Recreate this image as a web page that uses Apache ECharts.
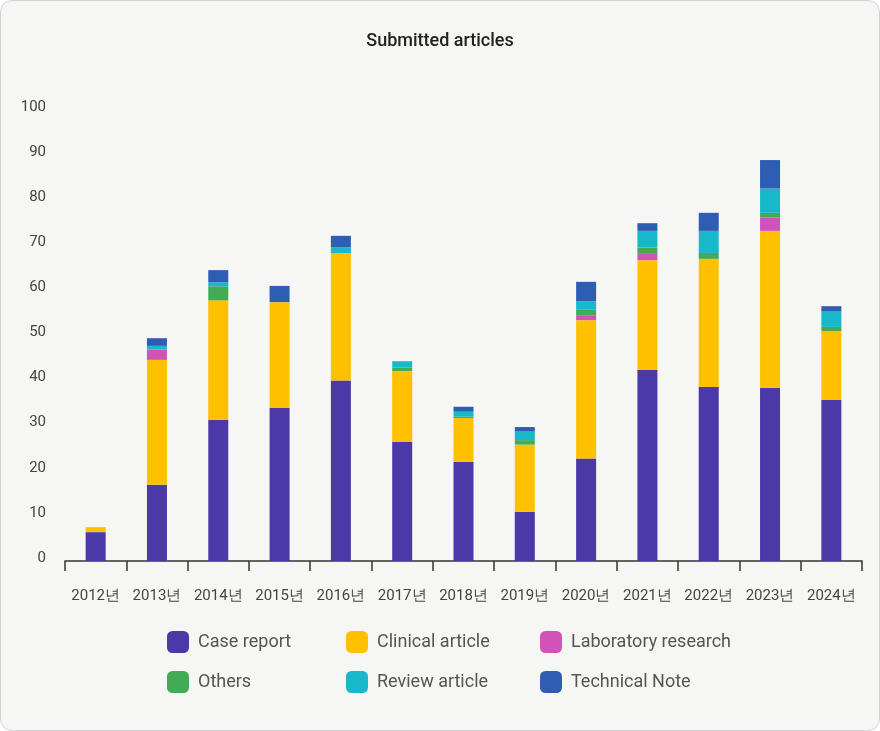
<!DOCTYPE html>
<html>
<head>
<meta charset="utf-8">
<script src="https://cdn.jsdelivr.net/npm/echarts@6/dist/echarts.min.js"></script>
<style>
  html, body { margin: 0; padding: 0; background: #ffffff; }
  #chart { width: 878px; height: 729px; border: 1px solid #d2d2d2; border-radius: 12px; background: #f6f6f4; overflow: hidden; }
</style>
</head>
<body>
<div id="chart"></div>
<script>
const categories = ['2012년','2013년','2014년','2015년','2016년','2017년','2018년','2019년','2020년','2021년','2022년','2023년','2024년'];
const caseReport       = [6.4, 16.9, 31.3, 33.9, 40.0, 26.4, 22.0, 10.9, 22.7, 42.4, 38.6, 38.4, 35.7];
const clinicalArticle  = [1.1, 27.7, 26.5, 23.5, 28.3, 15.7, 9.7, 14.9, 30.7, 24.3, 28.4, 34.8, 15.3];
const laboratoryResearch = [0, 2.3, 0, 0, 0, 0, 0, 0, 1.1, 1.4, 0, 3.0, 0];
const others           = [0, 0, 3.1, 0, 0, 0.8, 0.3, 1.0, 1.2, 1.4, 1.3, 1.0, 0.9];
const reviewArticle    = [0, 0.8, 0.9, 0, 1.3, 1.4, 1.1, 1.9, 1.9, 3.7, 4.9, 5.4, 3.4];
const technicalNote    = [0, 1.7, 2.7, 3.6, 2.5, 0, 1.1, 1.0, 4.3, 1.7, 4.0, 6.3, 1.2];
const yTicks = [0, 10, 20, 30, 40, 50, 60, 70, 80, 90, 100];

const seriesDefs = [
  ['Case report', caseReport, '#4b39a8'],
  ['Clinical article', clinicalArticle, '#ffc000'],
  ['Laboratory research', laboratoryResearch, '#d152b8'],
  ['Others', others, '#43ab56'],
  ['Review article', reviewArticle, '#17b8ca'],
  ['Technical Note', technicalNote, '#2e5db3']
];

const chart = echarts.init(document.getElementById('chart'));
const legendBase = {
  orient: 'vertical',
  top: 630,
  padding: 0,
  itemWidth: 22,
  itemHeight: 22,
  itemGap: 18,
  icon: 'roundRect',
  selectedMode: false,
  textStyle: { fontFamily: 'Roboto', fontSize: 18, color: '#555555', padding: [0, 0, 0, 4] }
};
chart.setOption({
  animation: false,
  title: {
    text: 'Submitted articles',
    left: 'center',
    top: 26,
    textStyle: { fontFamily: 'Roboto', fontSize: 18, fontWeight: 500, color: '#222222' }
  },
  legend: [
    Object.assign({}, legendBase, { left: 166, data: ['Case report', 'Others'] }),
    Object.assign({}, legendBase, { left: 345, data: ['Clinical article', 'Review article'] }),
    Object.assign({}, legendBase, { left: 539, data: ['Laboratory research', 'Technical Note'] })
  ],
  grid: { left: 64, right: 17, top: 109, bottom: 169, containLabel: false },
  xAxis: {
    type: 'category',
    data: categories,
    axisLine: { lineStyle: { color: '#333333', width: 1.5 } },
    axisTick: { show: true, interval: 0, length: 10, lineStyle: { color: '#333333', width: 1.5 } },
    axisLabel: { interval: 0, margin: 28, fontFamily: 'Roboto', fontSize: 15, color: '#444444' }
  },
  yAxis: {
    type: 'value',
    min: yTicks[0],
    max: yTicks[yTicks.length - 1],
    interval: 10,
    axisLine: { show: false },
    axisTick: { show: false },
    splitLine: { show: false },
    axisLabel: { margin: 19, fontFamily: 'Roboto', fontSize: 15, color: '#444444', verticalAlign: 'bottom', lineHeight: 6 }
  },
  series: seriesDefs.map(([name, data, color]) => ({
    name: name,
    type: 'bar',
    stack: 'total',
    data: data,
    barWidth: 20,
    itemStyle: { color: color },
    emphasis: { disabled: true }
  }))
});
</script>
</body>
</html>
